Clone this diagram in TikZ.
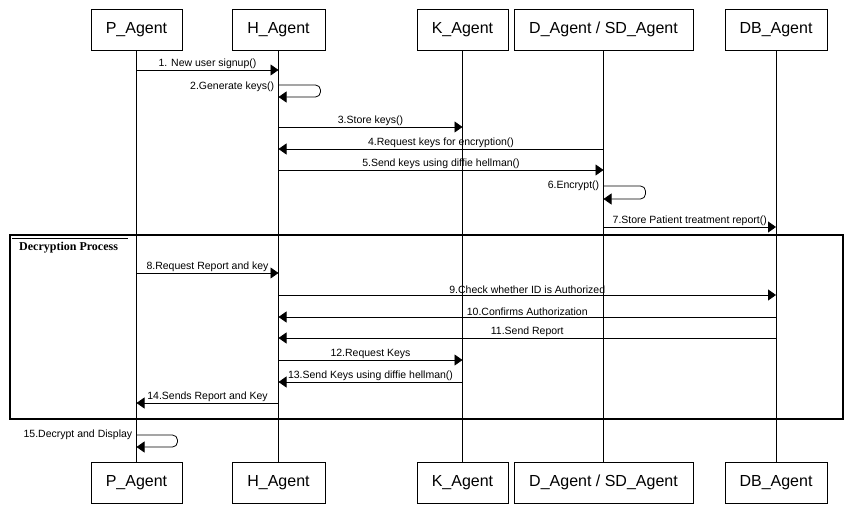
\documentclass[tikz,border=0pt]{standalone}
\usepackage{fontspec}
\setmainfont{Liberation Sans}
\newfontfamily\serifb{Liberation Serif}
\usetikzlibrary{arrows.meta}
\begin{document}
\begin{tikzpicture}[x=1pt,y=-1pt,
 agent/.style={draw, fill=white, line width=0.8pt, minimum height=41pt, inner sep=0pt, font=\fontsize{16}{18}\selectfont},
 life/.style={line width=0.8pt},
 msg/.style={line width=0.8pt, -{Triangle[length=8pt,width=11pt]}},
 lbl/.style={font=\fontsize{10.5}{12}\selectfont, inner sep=0.6pt},
 frame/.style={line width=2pt},
 ftitle/.style={font=\serifb\bfseries\fontsize{12}{14}\selectfont, inner sep=0pt}]
\useasboundingbox[fill=white] (0,0) rectangle (850,521);
% lifelines first
\foreach \x in {136.5, 278.5, 462.5, 603.5, 776}{
  \draw[life] (\x,50) -- (\x,462);
}
% top boxes
\node[agent, minimum width=91pt]  (pT)  at (136.5,29.5) {P\_Agent};
\node[agent, minimum width=93pt]  (hT)  at (278.5,29.5) {H\_Agent};
\node[agent, minimum width=91pt]  (kT)  at (462.5,29.5) {K\_Agent};
\node[agent, minimum width=179pt] (dT)  at (603.5,29.5) {D\_Agent / SD\_Agent};
\node[agent, minimum width=102pt] (dbT) at (776,29.5) {DB\_Agent};
% bottom boxes
\node[agent, minimum width=91pt]  (pB)  at (136.5,482.5) {P\_Agent};
\node[agent, minimum width=93pt]  (hB)  at (278.5,482.5) {H\_Agent};
\node[agent, minimum width=91pt]  (kB)  at (462.5,482.5) {K\_Agent};
\node[agent, minimum width=179pt] (dB)  at (603.5,482.5) {D\_Agent / SD\_Agent};
\node[agent, minimum width=102pt] (dbB) at (776,482.5) {DB\_Agent};

% messages
\draw[msg] (pT |- 0,70) -- node[lbl,above]{1. New user signup()} (hT |- 0,70);
\draw[msg, rounded corners=5pt] (hT |- 0,85) -- ++(42,0) -- ++(0,12) -- (hT |- 0,97);
\node[lbl, anchor=east] at (275,87) {2.Generate keys()};
\draw[msg] (hT |- 0,127) -- node[lbl,above]{3.Store keys()} (kT |- 0,127);
\draw[msg] (dT |- 0,149) -- node[lbl,above]{4.Request keys for encryption()} (hT |- 0,149);
\draw[msg] (hT |- 0,170) -- node[lbl,above]{5.Send keys using diffie hellman()} (dT |- 0,170);
\draw[msg, rounded corners=5pt] (dT |- 0,186) -- ++(42,0) -- ++(0,13) -- (dT |- 0,199);
\node[lbl, anchor=east] at (600,186) {6.Encrypt()};
\draw[msg] (dT |- 0,227) -- node[lbl,above]{7.Store Patient treatment report()} (dbT |- 0,227);

% frame
\draw[frame] (10,235) rectangle (843,419);
\draw[line width=0.6pt] (12,238.5) -- (128,238.5);
\node[ftitle, anchor=west] at (19,248) {Decryption Process};

\draw[msg] (pT |- 0,273) -- node[lbl,above]{8.Request Report and key} (hT |- 0,273);
\draw[msg] (hT |- 0,295) -- node[lbl,above]{9.Check whether ID is Authorized} (dbT |- 0,295);
\draw[msg] (dbT |- 0,317) -- node[lbl,above]{10.Confirms Authorization} (hT |- 0,317);
\draw[msg] (dbT |- 0,338) -- node[lbl,above]{11.Send Report} (hT |- 0,338);
\draw[msg] (hT |- 0,360) -- node[lbl,above]{12.Request Keys} (kT |- 0,360);
\draw[msg] (kT |- 0,382) -- node[lbl,above]{13.Send Keys using diffie hellman()} (hT |- 0,382);
\draw[msg] (hT |- 0,403) -- node[lbl,above]{14.Sends Report and Key} (pT |- 0,403);

\draw[msg, rounded corners=5pt] (pT |- 0,435) -- ++(41,0) -- ++(0,12) -- (pT |- 0,447);
\node[lbl, anchor=east] at (133,435) {15.Decrypt and Display};
\end{tikzpicture}
\end{document}
